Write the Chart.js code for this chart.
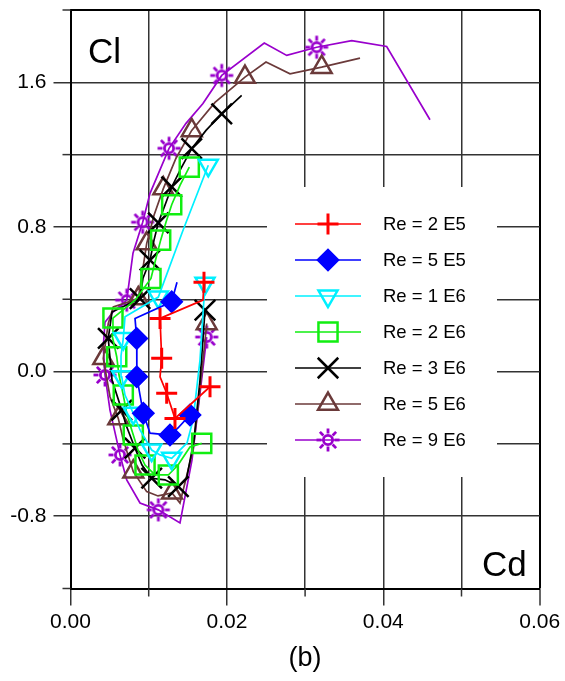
<!DOCTYPE html>
<html>
<head>
<meta charset="utf-8">
<script src="https://cdn.jsdelivr.net/npm/chart.js@4.4.1/dist/chart.umd.min.js"></script>
<style>
  body { margin: 0; background: #fff; }
  canvas { display: block; }
</style>
</head>
<body>
<canvas id="GraficaPolar" width="565" height="681"></canvas>
<script>
// polar data: Cd (x) and Cl (y) for each Reynolds number
const seriesNames = ['Re = 2 E5', 'Re = 5 E5', 'Re = 1 E6', 'Re = 2 E6', 'Re = 3 E6', 'Re = 5 E6', 'Re = 9 E6'];

const re2e5Cd = [0.01707, 0.01694, 0.01145, 0.01166, 0.01145, 0.01230, 0.01336, 0.01784];
const re2e5Cl = [0.494, 0.395, 0.294, 0.073, -0.029, -0.120, -0.259, -0.084];
const re2e5Marks = [0, 2, 3, 5, 6, 7];

const re5e5Cd = [0.01362, 0.01294, 0.00825, 0.00847, 0.00850, 0.00847, 0.00889, 0.00931, 0.01017, 0.01272, 0.01375, 0.01528];
const re5e5Cl = [0.494, 0.386, 0.294, 0.183, 0.075, -0.029, -0.130, -0.231, -0.341, -0.351, -0.312, -0.240];
const re5e5Marks = [1, 3, 5, 7, 9, 11];

const re1e6Cd = [0.01720, 0.01656, 0.01567, 0.01490, 0.01294, 0.01145, 0.01038, 0.00889, 0.00803, 0.00697, 0.00655, 0.00646, 0.00675, 0.00697, 0.01123, 0.01439, 0.01762];
const re1e6Cl = [0.489, 0.064, -0.268, -0.395, -0.480, -0.461, -0.434, -0.323, -0.231, -0.130, -0.029, 0.086, 0.183, 0.303, 0.412, 0.782, 1.141];
const re1e6Marks = [0, 4, 6, 8, 10, 12, 14, 16];

const re2e6Cd = [0.01678, 0.01528, 0.01375, 0.01251, 0.01081, 0.00953, 0.00863, 0.00803, 0.00723, 0.00675, 0.00620, 0.00591, 0.00531, 0.00543, 0.00825, 0.01029, 0.01093, 0.01153, 0.01221, 0.01294, 0.01400, 0.01519];
const re2e6Cl = [-0.397, -0.417, -0.517, -0.572, -0.572, -0.517, -0.434, -0.351, -0.240, -0.130, -0.019, 0.082, 0.202, 0.296, 0.395, 0.515, 0.627, 0.727, 0.826, 0.923, 1.030, 1.131];
const re2e6Marks = [0, 3, 5, 7, 9, 11, 13, 15, 17, 19, 21];

const re3e6Cd = [0.01720, 0.01656, 0.01579, 0.01486, 0.01379, 0.01208, 0.01038, 0.00914, 0.00825, 0.00710, 0.00655, 0.00531, 0.00483, 0.00531, 0.00889, 0.00927, 0.01017, 0.01068, 0.01123, 0.01208, 0.01294, 0.01413, 0.01550, 0.01733, 0.01934, 0.02189];
const re3e6Cl = [0.340, -0.047, -0.378, -0.588, -0.636, -0.599, -0.590, -0.517, -0.424, -0.296, -0.213, -0.047, 0.183, 0.329, 0.404, 0.517, 0.616, 0.727, 0.823, 0.920, 1.021, 1.124, 1.233, 1.334, 1.426, 1.528];
const re3e6Marks = [0, 4, 6, 8, 10, 12, 14, 16, 18, 20, 22, 24];

const re5e6Cd = [0.01742, 0.01656, 0.01567, 0.01400, 0.01298, 0.01119, 0.00974, 0.00803, 0.00675, 0.00611, 0.00505, 0.00419, 0.00483, 0.00547, 0.00867, 0.00974, 0.01068, 0.01187, 0.01349, 0.01550, 0.01848, 0.02231, 0.02500, 0.02807, 0.03212, 0.03702];
const re5e6Cl = [0.266, -0.102, -0.434, -0.727, -0.671, -0.688, -0.664, -0.554, -0.378, -0.259, -0.139, 0.073, 0.266, 0.358, 0.404, 0.708, 0.865, 1.012, 1.180, 1.334, 1.489, 1.629, 1.712, 1.647, 1.684, 1.734];
const re5e6Marks = [0, 4, 7, 9, 11, 14, 15, 17, 19, 21, 24];

const re9e6Cd = [0.01742, 0.01554, 0.01400, 0.01123, 0.00889, 0.00719, 0.00633, 0.00505, 0.00441, 0.00419, 0.00441, 0.00543, 0.00719, 0.00799, 0.00923, 0.01017, 0.01260, 0.01477, 0.01694, 0.01934, 0.02478, 0.02765, 0.03148, 0.03596, 0.04043, 0.04597];
const re9e6Cl = [0.191, -0.489, -0.837, -0.765, -0.727, -0.599, -0.461, -0.213, -0.019, 0.135, 0.273, 0.329, 0.395, 0.655, 0.826, 0.986, 1.235, 1.373, 1.483, 1.638, 1.817, 1.749, 1.794, 1.831, 1.798, 1.393];
const re9e6Marks = [0, 3, 6, 8, 12, 14, 16, 19, 22];

const xTicks = [0.00, 0.02, 0.04, 0.06];   // labelled Cd ticks
const yTicks = [-0.8, 0.0, 0.8, 1.6];      // labelled Cl ticks

const fuente = '"Liberation Sans", Arial, sans-serif';
Chart.defaults.font.family = fuente;
Chart.defaults.color = '#000';

function hacerSol(color) {
    const c = document.createElement('canvas');
    c.width = 26;
    c.height = 26;
    const g = c.getContext('2d');
    g.strokeStyle = color;
    g.lineWidth = 2.8;
    g.beginPath();
    g.arc(13, 13, 4.6, 0, Math.PI * 2);
    g.stroke();
    for (let k = 0; k < 8; k++) {
        const a = k * Math.PI / 4;
        g.beginPath();
        g.moveTo(13 + Math.cos(a) * 6.5, 13 + Math.sin(a) * 6.5);
        g.lineTo(13 + Math.cos(a) * 11.5, 13 + Math.sin(a) * 11.5);
        g.stroke();
    }
    return c;
}

function puntos(cd, cl) {
    const out = [];
    for (let i = 0; i < cd.length; i++) out.push({ x: cd[i], y: cl[i] });
    return out;
}

function serie(idx, cd, cl, marks, color, estilo) {
    return {
        label: seriesNames[idx],
        data: puntos(cd, cl),
        showLine: true,
        borderColor: color,
        borderWidth: 1.7,
        pointStyle: estilo.style,
        rotation: estilo.rotation || 0,
        pointBorderColor: color,
        pointBackgroundColor: estilo.fill ? color : 'rgba(0,0,0,0)',
        pointBorderWidth: estilo.bw || 2.5,
        pointRadius: ctx => marks.indexOf(ctx.dataIndex) >= 0 ? estilo.r : 0,
        pointHoverRadius: 0,
        legendStyle: estilo
    };
}

const datasets = [
    serie(0, re2e5Cd, re2e5Cl, re2e5Marks, '#ff0000', { style: 'cross', r: 10.5, bw: 3 }),
    serie(1, re5e5Cd, re5e5Cl, re5e5Marks, '#0000ff', { style: 'rectRot', r: 10, fill: true }),
    serie(2, re1e6Cd, re1e6Cl, re1e6Marks, '#00f0ff', { style: 'triangle', r: 11, rotation: 180 }),
    serie(3, re2e6Cd, re2e6Cl, re2e6Marks, '#11ee11', { style: 'rect', r: 13.5 }),
    serie(4, re3e6Cd, re3e6Cl, re3e6Marks, '#000000', { style: 'crossRot', r: 14.5 }),
    serie(5, re5e6Cd, re5e6Cl, re5e6Marks, '#6b3a3a', { style: 'triangle', r: 11.5 }),
    serie(6, re9e6Cd, re9e6Cl, re9e6Marks, '#9900cc', { style: hacerSol('#9900cc'), r: 11 })
];

function esMarcadoX(v) { return xTicks.some(t => Math.abs(t - v) < 1e-6); }
function esMarcadoY(v) { return yTicks.some(t => Math.abs(t - v) < 1e-6); }

// legend box, minor ticks and the Cl / Cd labels
const extras = {
    id: 'extras',
    afterDatasetsDraw(chart) {
        const ctx = chart.ctx;
        ctx.save();
        ctx.fillStyle = '#fff';
        ctx.fillRect(267, 187, 230, 290);
        chart.data.datasets.forEach((ds, i) => {
            const y = 224 + i * 36;
            ctx.strokeStyle = ds.borderColor;
            ctx.lineWidth = 1.7;
            ctx.beginPath();
            ctx.moveTo(295, y);
            ctx.lineTo(361, y);
            ctx.stroke();
            const e = ds.legendStyle;
            ctx.lineWidth = e.bw || 2.5;
            ctx.fillStyle = e.fill ? ds.borderColor : 'rgba(0,0,0,0)';
            Chart.helpers.drawPoint(ctx, { pointStyle: e.style, radius: e.r, rotation: e.rotation || 0, borderWidth: e.bw || 2.5 }, 328, y);
            ctx.fillStyle = '#000';
            ctx.font = '18.5px ' + fuente;
            ctx.textBaseline = 'middle';
            ctx.textAlign = 'left';
            ctx.fillText(ds.label, 383, y + 1);
        });
        ctx.restore();
    },
    afterDraw(chart) {
        const ctx = chart.ctx;
        const a = chart.chartArea;
        const sx = chart.scales.x, sy = chart.scales.y;
        ctx.save();
        ctx.strokeStyle = '#333';
        ctx.lineWidth = 1.5;
        sx.ticks.forEach(t => {
            if (esMarcadoX(t.value)) return;
            const px = sx.getPixelForValue(t.value);
            ctx.beginPath();
            ctx.moveTo(px, a.bottom);
            ctx.lineTo(px, a.bottom + 8);
            ctx.stroke();
        });
        sy.ticks.forEach(t => {
            if (esMarcadoY(t.value)) return;
            const py = sy.getPixelForValue(t.value);
            ctx.beginPath();
            ctx.moveTo(a.left - 8, py);
            ctx.lineTo(a.left, py);
            ctx.stroke();
        });
        ctx.fillStyle = '#000';
        ctx.font = '35px ' + fuente;
        ctx.textBaseline = 'alphabetic';
        ctx.textAlign = 'left';
        ctx.fillText('Cl', 88, 63);
        ctx.fillText('Cd', 482, 575.5);
        ctx.restore();
    }
};

const $LienzoGrafica = document.getElementById('GraficaPolar');

new Chart($LienzoGrafica, {
    type: 'scatter',
    data: { datasets: datasets },
    plugins: [extras],
    options: {
        responsive: false,
        animation: false,
        layout: { autoPadding: false, padding: { top: 10, right: 25.3, left: 0, bottom: 0 } },
        plugins: {
            legend: { display: false },
            tooltip: { enabled: false }
        },
        scales: {
            x: {
                type: 'linear',
                min: 0,
                max: 0.06,
                afterFit: s => { s.height = 92.5; s.paddingLeft = 0; s.paddingRight = 0; },
                ticks: {
                    stepSize: 0.01,
                    padding: 4,
                    maxRotation: 0,
                    autoSkip: false,
                    font: { size: 21 },
                    callback: v => esMarcadoX(v) ? v.toFixed(2) : ''
                },
                grid: {
                    color: c => (c.tick && c.tick.value > 0.0599) ? '#000' : '#333',
                    lineWidth: c => (c.tick && c.tick.value > 0.0599) ? 2 : 1.5,
                    tickLength: 17,
                    tickColor: c => (c.tick && esMarcadoX(c.tick.value)) ? '#333' : 'rgba(0,0,0,0)',
                    tickWidth: 1.5
                },
                border: { display: true, color: '#000', width: 2 },
                title: {
                    display: true,
                    text: '(b)',
                    font: { size: 27 },
                    padding: { top: 0, bottom: 6 }
                }
            },
            y: {
                type: 'linear',
                min: -1.2,
                max: 2.0,
                afterFit: s => { s.width = 70.5; s.paddingTop = 0; s.paddingBottom = 0; },
                ticks: {
                    stepSize: 0.4,
                    padding: 7,
                    autoSkip: false,
                    font: { size: 21 },
                    callback: v => esMarcadoY(v) ? v.toFixed(1) : ''
                },
                grid: {
                    color: c => (c.tick && c.tick.value > 1.999) ? '#000' : '#333',
                    lineWidth: c => (c.tick && c.tick.value > 1.999) ? 2 : 1.5,
                    tickLength: 17,
                    tickColor: c => (c.tick && esMarcadoY(c.tick.value)) ? '#333' : 'rgba(0,0,0,0)',
                    tickWidth: 1.5
                },
                border: { display: true, color: '#000', width: 2 }
            }
        }
    }
});
</script>
</body>
</html>
